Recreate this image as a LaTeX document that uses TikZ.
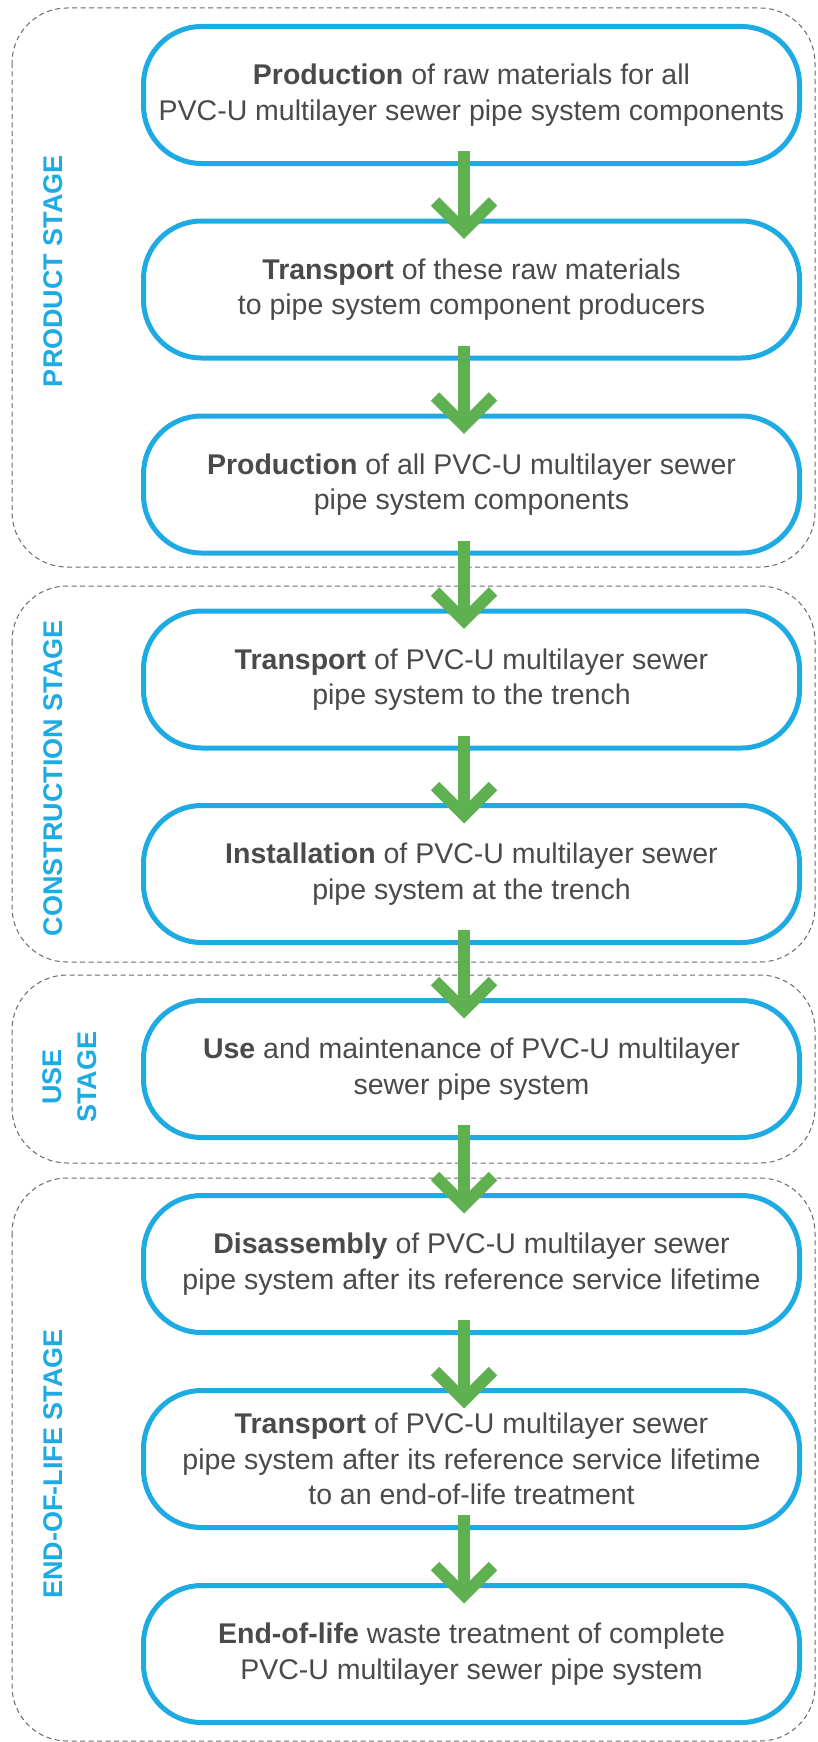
\documentclass[tikz,border=0pt]{standalone}
\usepackage{fontspec}
\setmainfont{Liberation Sans}
\definecolor{boxblue}{RGB}{30,170,226}
\definecolor{arrgreen}{RGB}{94,176,80}
\definecolor{txtgray}{RGB}{74,74,74}
\definecolor{dashgray}{RGB}{105,105,105}
\tikzset{
  stepbox/.style={draw=boxblue, line width=5pt, rounded corners=58pt, minimum width=656pt, minimum height=137pt, align=center, text=txtgray, font=\fontsize{28.5}{35.5}\selectfont, inner sep=0pt},
  grpbox/.style={draw=dashgray, line width=1pt, dash pattern=on 5pt off 3.5pt, rounded corners=55pt},
  stagelbl/.style={text=boxblue, font=\fontsize{27}{35}\selectfont\bfseries, rotate=90, align=center, inner sep=0pt},
  shaft/.style={draw=arrgreen, line width=12pt},
  chev/.style={draw=arrgreen, line width=12pt, miter limit=10, line join=miter},
}
\begin{document}
\begin{tikzpicture}[x=1pt,y=-1pt]
\useasboundingbox (0,0) rectangle (818,1742);
% stage groups
\draw[grpbox] (12,8) rectangle (815,567);
\draw[grpbox] (12,586) rectangle (815,962);
\draw[grpbox] (12,975) rectangle (815,1163);
\draw[grpbox] (12,1178) rectangle (815,1741);
% stage labels
\node[stagelbl] (s1) at (53,271) {PRODUCT STAGE};
\node[stagelbl] (s2) at (53,778) {CONSTRUCTION STAGE};
\node[stagelbl] (s3) at (70,1077) {USE\\STAGE};
\node[stagelbl] (s4) at (53,1464) {END-OF-LIFE STAGE};
% steps
\node[stepbox] (b1) at (471.5,95) {\textbf{Production} of raw materials for all\\PVC-U multilayer sewer pipe system components};
\node[stepbox] (b2) at (471.5,289.5) {\textbf{Transport} of these raw materials\\to pipe system component producers};
\node[stepbox] (b3) at (471.5,484.5) {\textbf{Production} of all PVC-U multilayer sewer\\pipe system components};
\node[stepbox] (b4) at (471.5,679.5) {\textbf{Transport} of PVC-U multilayer sewer\\pipe system to the trench};
\node[stepbox] (b5) at (471.5,874) {\textbf{Installation} of PVC-U multilayer sewer\\pipe system at the trench};
\node[stepbox] (b6) at (471.5,1069) {\textbf{Use} and maintenance of PVC-U multilayer\\sewer pipe system};
\node[stepbox] (b7) at (471.5,1264) {\textbf{Disassembly} of PVC-U multilayer sewer\\pipe system after its reference service lifetime};
\node[stepbox] (b8) at (471.5,1459) {\textbf{Transport} of PVC-U multilayer sewer\\pipe system after its reference service lifetime\\to an end-of-life treatment};
\node[stepbox] (b9) at (471.5,1654) {\textbf{End-of-life} waste treatment of complete\\PVC-U multilayer sewer pipe system};
% arrows
\foreach \a/\b in {b1/b2,b2/b3,b3/b4,b4/b5,b5/b6,b6/b7,b7/b8,b8/b9}{
  \draw[shaft] ([shift={(-7.5,-15)}]\a.south) -- ([shift={(-7.5,12)}]\b.north);
  \draw[chev] ([shift={(-36.5,-17)}]\b.north) -- ([shift={(-7.5,12)}]\b.north) -- ([shift={(21.5,-17)}]\b.north);
}
\end{tikzpicture}
\end{document}
